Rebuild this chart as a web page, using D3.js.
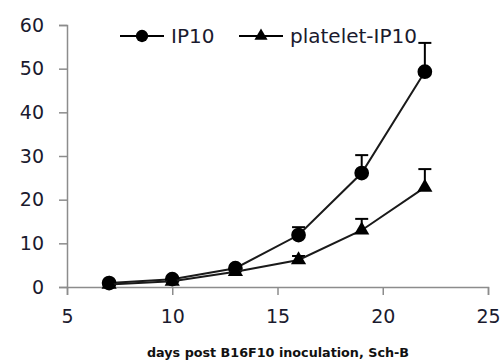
<!DOCTYPE html>
<html>
<head>
<meta charset="utf-8">
<script src="https://cdn.jsdelivr.net/npm/d3@7"></script>
<style>
  body { margin: 0; background: #fff; }
  text { font-family: "DejaVu Sans", Verdana, sans-serif; }
</style>
</head>
<body>
<div id="chart"></div>
<script>
const days = [7, 10, 13, 16, 19, 22];
const ip10 = [0.9, 1.8, 4.3, 11.9, 26.1, 49.3];
const ip10Err = [0, 0, 0, 1.8, 4.1, 6.6];
const plateletIp10 = [0.6, 1.3, 3.5, 6.2, 13.0, 22.8];
const plateletErr = [0, 0, 0, 0.9, 2.6, 4.2];
const xTicks = [5, 10, 15, 20, 25];
const yTicks = [0, 10, 20, 30, 40, 50, 60];
const seriesNames = ["IP10", "platelet-IP10"];
const xTitle = "days post B16F10 inoculation, Sch-B";

const width = 501, height = 362;
const margin = {top: 25, right: 13, bottom: 75, left: 67};

const svg = d3.select("#chart").append("svg")
  .attr("width", width)
  .attr("height", height);

const x = d3.scaleLinear().domain([5, 25]).range([margin.left, width - margin.right]);
const y = d3.scaleLinear().domain([0, 60]).range([height - margin.bottom, margin.top]);

// y axis
const yAxis = svg.append("g")
  .attr("transform", "translate(" + margin.left + ",0)")
  .call(d3.axisLeft(y).tickValues(yTicks).tickSize(8).tickPadding(15));

// x axis
const xAxis = svg.append("g")
  .attr("transform", "translate(0," + y(0) + ")")
  .call(d3.axisBottom(x).tickValues(xTicks).tickSize(8).tickPadding(15));

[xAxis, yAxis].forEach(a => {
  a.select(".domain").attr("stroke", "#8c8c8c").attr("stroke-width", 1.5);
  a.selectAll(".tick line").attr("stroke", "#8c8c8c").attr("stroke-width", 1.5);
  a.selectAll(".tick text")
    .attr("fill", "#1a1a2e")
    .style("font-size", "19px");
});

const series = [
  {name: seriesNames[0], vals: ip10, err: ip10Err, sym: d3.symbolCircle, size: 170, legSize: 120},
  {name: seriesNames[1], vals: plateletIp10, err: plateletErr, sym: d3.symbolTriangle, size: 100, legSize: 75}
];

const line = d3.line().x(d => x(d[0])).y(d => y(d[1]));

series.forEach(s => {
  const pts = days.map((d, i) => [d, s.vals[i], s.err[i]]);
  // upper error bars
  const eb = svg.append("g");
  pts.filter(p => p[2] > 0).forEach(p => {
    eb.append("line")
      .attr("x1", x(p[0])).attr("x2", x(p[0]))
      .attr("y1", y(p[1])).attr("y2", y(p[1] + p[2]))
      .attr("stroke", "#000").attr("stroke-width", 2);
    eb.append("line")
      .attr("x1", x(p[0]) - 6.5).attr("x2", x(p[0]) + 6.5)
      .attr("y1", y(p[1] + p[2])).attr("y2", y(p[1] + p[2]))
      .attr("stroke", "#000").attr("stroke-width", 2);
  });
  svg.append("path")
    .datum(pts)
    .attr("d", line)
    .attr("fill", "none")
    .attr("stroke", "#1a1a1a")
    .attr("stroke-width", 2);
  svg.selectAll(null)
    .data(pts)
    .enter().append("path")
      .attr("transform", d => "translate(" + x(d[0]) + "," + y(d[1]) + ")")
      .attr("d", d3.symbol().type(s.sym).size(s.size))
      .attr("fill", "#000");
});

// legend
const legend = svg.append("g");
const legendX = [120, 239];
series.forEach((s, i) => {
  const lg = legend.append("g").attr("transform", "translate(" + legendX[i] + ",36)");
  lg.append("line").attr("x1", 0).attr("x2", 44).attr("y1", 0).attr("y2", 0)
    .attr("stroke", "#000").attr("stroke-width", 2);
  lg.append("path").attr("transform", "translate(22,0)")
    .attr("d", d3.symbol().type(s.sym).size(s.legSize)).attr("fill", "#000");
  lg.append("text").attr("x", 51).attr("y", 0).attr("dy", "0.35em")
    .attr("fill", "#1a1a2e")
    .style("font-size", "20px")
    .text(s.name);
});

// x axis title
svg.append("text")
  .attr("x", 278)
  .attr("y", 357)
  .attr("text-anchor", "middle")
  .attr("textLength", 262)
  .attr("lengthAdjust", "spacingAndGlyphs")
  .attr("fill", "#111")
  .style("font-size", "12px")
  .style("font-weight", "bold")
  .text(xTitle);
</script>
</body>
</html>
